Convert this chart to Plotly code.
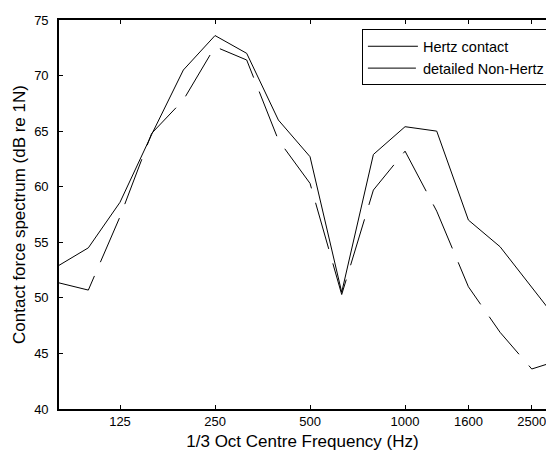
import plotly.graph_objects as go

bands = ["80", "100", "125", "160", "200", "250", "315", "400", "500", "630",
         "800", "1000", "1250", "1600", "2000", "2500", "3150"]
hertz = [52.8, 54.5, 58.6, 64.7, 70.5, 73.6, 72.0, 66.0, 62.7, 50.5,
         62.9, 65.4, 65.0, 57.0, 54.6, 50.9, 47.3]
non_hertz = [51.4, 50.7, 57.3, 64.8, 67.8, 72.6, 71.4, 64.2, 60.3, 50.3,
             59.7, 63.2, 57.8, 51.0, 46.9, 43.6, 44.5]
tick_labels = ["125", "250", "500", "1000", "1600", "2500"]
y_ticks = [40, 45, 50, 55, 60, 65, 70, 75]

FONT = "Liberation Sans, Arial, sans-serif"

fig = go.Figure()
fig.add_trace(go.Scatter(x=bands, y=hertz, mode="lines", name="Hertz contact",
                         line=dict(color="black", width=1)))
fig.add_trace(go.Scatter(x=bands, y=non_hertz, mode="lines", name="detailed Non-Hertz",
                         line=dict(color="black", width=1, dash="48px,15px")))

fig.update_layout(
    width=546, height=451,
    margin=dict(l=59, r=0, t=20, b=42, autoexpand=False),
    paper_bgcolor="white", plot_bgcolor="white",
    font=dict(family=FONT, size=13, color="black"),
    showlegend=True,
    legend=dict(x=0.622, y=0.976, xanchor="left", yanchor="top",
                bordercolor="black", borderwidth=1, bgcolor="white",
                font=dict(family=FONT, size=14.5, color="black"),
                itemwidth=50, tracegroupgap=0),
    xaxis=dict(type="category", categoryorder="array", categoryarray=bands,
               range=[0.074, 15.45], tickmode="array", tickvals=tick_labels,
               ticktext=tick_labels, ticks="inside", ticklen=4, tickwidth=1,
               tickcolor="black", showline=True, linecolor="black", linewidth=1.6,
               mirror="ticks", showgrid=False, zeroline=False,
               tickfont=dict(family=FONT, size=13),
               title=dict(text="1/3 Oct Centre Frequency (Hz)", standoff=8,
                          font=dict(family=FONT, size=17))),
    yaxis=dict(range=[40, 75], tickmode="array", tickvals=y_ticks,
               ticks="inside", ticklen=4, tickwidth=1, tickcolor="black",
               showline=True, linecolor="black", linewidth=1.6, mirror=False,
               showgrid=False, zeroline=False, ticklabelstandoff=6,
               tickfont=dict(family=FONT, size=13),
               title=dict(text="Contact force spectrum (dB re 1N)", standoff=4,
                          font=dict(family=FONT, size=17))),
)

fig.write_html("out.html")
